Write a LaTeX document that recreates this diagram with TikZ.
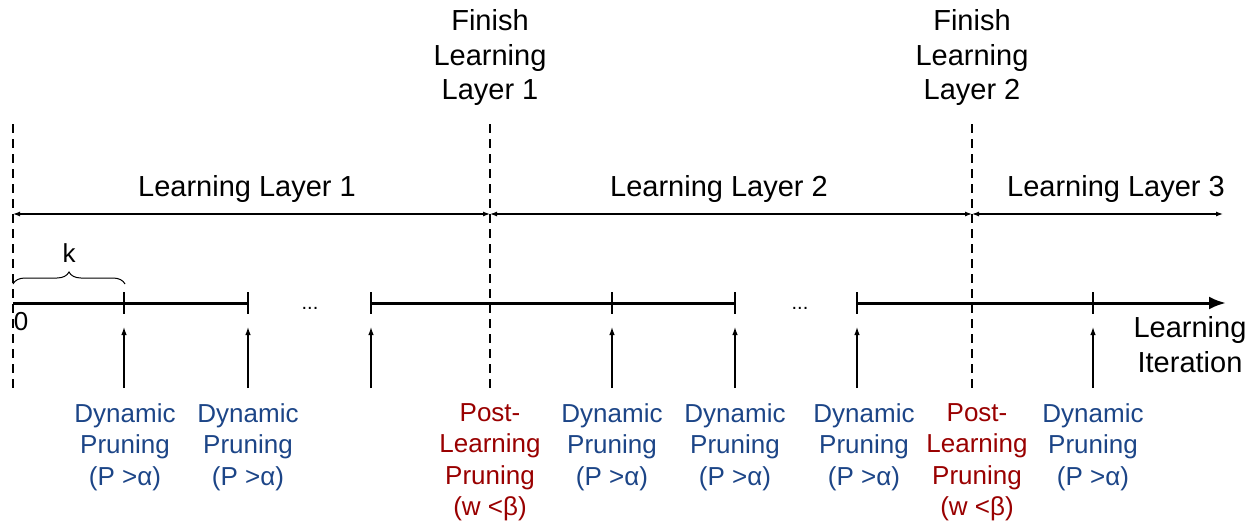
\documentclass[tikz,border=0pt]{standalone}
\usepackage{fontspec}
\setmainfont{Liberation Sans}
\usetikzlibrary{arrows.meta,decorations.pathreplacing}
\definecolor{dynblue}{HTML}{1C4587}
\definecolor{postred}{HTML}{990000}
\begin{document}
\begin{tikzpicture}[x=1pt,y=1pt,
  toplbl/.style={font=\fontsize{29}{34.3}\selectfont, align=center, inner sep=0pt, anchor=north},
  layerlbl/.style={font=\fontsize{29}{34}\selectfont, inner sep=0pt, anchor=base},
  dynlbl/.style={font=\fontsize{26}{31.5}\selectfont, align=center, inner sep=0pt, anchor=north, text=dynblue},
  postlbl/.style={font=\fontsize{26}{31.5}\selectfont, align=center, inner sep=0pt, anchor=north, text=postred},
  plainlbl/.style={font=\fontsize{26}{31}\selectfont, inner sep=0pt},
  boundary/.style={line width=2.5pt, dash pattern=on 9pt off 6pt},
  span/.style={line width=1.2pt, {Latex[length=7pt,width=5pt]}-{Latex[length=7pt,width=5pt]}},
  axisline/.style={line width=3pt},
  tickmark/.style={line width=2.5pt},
  uparrow/.style={line width=1.2pt, -{Latex[length=8pt,width=5.5pt]}}
]
\useasboundingbox (0,0) rectangle (1256,-520);

% key coordinates on the axis
\coordinate (o) at (13,-303);
\coordinate (b1) at (490,-303);
\coordinate (b2) at (972,-303);
\coordinate (t1) at (124,-303);
\coordinate (t2) at (248,-303);
\coordinate (t3) at (371,-303);
\coordinate (t4) at (612,-303);
\coordinate (t5) at (735,-303);
\coordinate (t6) at (857,-303);
\coordinate (t7) at (1093,-303);
\coordinate (aend) at (1226,-303);

% top labels
\node[toplbl] (fin1) at (490,-9.5) {Finish\\Learning\\Layer 1};
\node[toplbl] (fin2) at (972,-9.5) {Finish\\Learning\\Layer 2};

% dashed boundaries
\foreach \c in {o,b1,b2}{
  \draw[boundary] ([yshift=179pt]\c) -- ([yshift=-85pt]\c);
}

% layer labels and spans
\node[layerlbl] (ll1) at (247,-196) {Learning Layer 1};
\node[layerlbl] (ll2) at (719,-196) {Learning Layer 2};
\node[layerlbl] (ll3) at (1116,-196) {Learning Layer 3};
\coordinate (s0) at (13,-214);
\coordinate (s1) at (490,-214);
\coordinate (s2) at (972,-214);
\coordinate (s3) at (1223,-214);
\draw[span] (s0) -- (s1);
\draw[span] (s1) -- (s2);
\draw[span] (s2) -- (s3);

% axis
\draw[axisline] (o) -- (t2);
\draw[axisline] (t3) -- (t5);
\draw[axisline, -{Latex[length=17pt,width=13pt]}] (t6) -- (aend);
\foreach \c in {t1,t2,t3,t4,t5,t6,t7}{
  \draw[tickmark] ([yshift=11pt]\c) -- ([yshift=-11pt]\c);
}
\node[font=\fontsize{20}{24}\selectfont, inner sep=0pt, anchor=base] (dots1) at (310,-309) {...};
\node[font=\fontsize{20}{24}\selectfont, inner sep=0pt, anchor=base] (dots2) at (800,-309) {...};
\node[plainlbl] (zero) at (21,-322) {0};

% brace k
\coordinate (br0) at (13,-284);
\coordinate (br1) at (125,-284);
\draw[line width=1pt, decorate, decoration={brace, amplitude=12pt}] (br0) -- (br1);
\node[plainlbl, anchor=base] (k) at (69,-262) {k};

% axis label
\node[font=\fontsize{29}{35}\selectfont, align=center, inner sep=0pt, anchor=north] (iter) at (1190,-316) {Learning\\Iteration};

% up arrows
\foreach \c in {t1,t2,t3,t4,t5,t6,t7}{
  \draw[uparrow] ([yshift=-85pt]\c) -- ([yshift=-24pt]\c);
}

% bottom labels
\node[dynlbl] (d1) at (125,-403) {Dynamic\\Pruning\\(P >α)};
\node[dynlbl] (d2) at (248,-403) {Dynamic\\Pruning\\(P >α)};
\node[postlbl] (p1) at (490,-403) {Post-\\Learning\\Pruning\\(w <β)};
\node[dynlbl] (d3) at (612,-403) {Dynamic\\Pruning\\(P >α)};
\node[dynlbl] (d4) at (735,-403) {Dynamic\\Pruning\\(P >α)};
\node[dynlbl] (d5) at (864,-403) {Dynamic\\Pruning\\(P >α)};
\node[postlbl] (p2) at (977,-403) {Post-\\Learning\\Pruning\\(w <β)};
\node[dynlbl] (d6) at (1093,-403) {Dynamic\\Pruning\\(P >α)};
\end{tikzpicture}
\end{document}
